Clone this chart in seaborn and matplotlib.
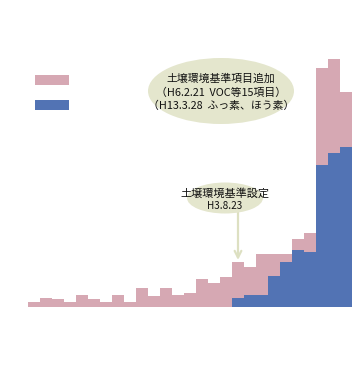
import matplotlib
matplotlib.use("Agg")
import matplotlib.pyplot as plt
from matplotlib.patches import Ellipse, Rectangle
import seaborn as sns
import pandas as pd

# ---- data ----
years = [str(y) for y in range(1974, 2001)]
total = [5, 9, 8, 5, 12, 8, 5, 12, 5, 19, 11, 19, 12, 14, 28, 24, 30,
         45, 40, 53, 53, 53, 68, 74, 239, 248, 215]
subset = [0, 0, 0, 0, 0, 0, 0, 0, 0, 0, 0, 0, 0, 0, 0, 0, 0,
          9, 12, 12, 31, 45, 57, 55, 142, 154, 160]
note_big = ["土壌環境基準項目追加", "（H6.2.21  VOC等15項目）", "（H13.3.28  ふっ素、ほう素）"]
note_small = ["土壌環境基準設定", "H3.8.23"]
note_index = 17

PINK = "#d6a8b3"
BLUE = "#5273b4"
BUBBLE = "#e4e6cd"
ARROW = "#dde0c2"

sns.set_theme(style="white")
plt.rcParams["font.family"] = ["Noto Sans CJK JP", "DejaVu Sans"]

W, H = 364, 376
fig = plt.figure(figsize=(W / 100, H / 100), dpi=100)
ax = fig.add_axes([28 / W, (H - 307) / H, 324 / W, 260 / H])

df = pd.DataFrame({"year": years, "total": total, "subset": subset})
sns.barplot(data=df, x="year", y="total", color=PINK, saturation=1, width=1,
            linewidth=0, ax=ax)
sns.barplot(data=df, x="year", y="subset", color=BLUE, saturation=1, width=1,
            linewidth=0, ax=ax)
ax.set_xlim(-0.5, len(years) - 0.5)
ax.set_ylim(0, 260)
ax.set_axis_off()

# legend swatches
fig.patches.append(Rectangle((35 / W, 1 - 85 / H), 34 / W, 10 / H, transform=fig.transFigure,
                             facecolor=PINK, edgecolor="none"))
fig.patches.append(Rectangle((35 / W, 1 - 110 / H), 34 / W, 10 / H, transform=fig.transFigure,
                             facecolor=BLUE, edgecolor="none"))

# big bubble
fig.patches.append(Ellipse((221 / W, 1 - 91 / H), 146 / W, 66 / H, transform=fig.transFigure,
                           facecolor=BUBBLE, edgecolor="none"))
for txt, yy in zip(note_big, [79, 93, 106]):
    fig.text(221 / W, 1 - yy / H, txt, ha="center", va="center", fontsize=7.8, color="#111111")

# small bubble with arrow
ax.annotate("", xy=(note_index, total[note_index] + 2), xycoords="data",
            xytext=(238 / W, 1 - 212 / H), textcoords="figure fraction",
            arrowprops=dict(arrowstyle="->", color=ARROW, lw=1.6, shrinkA=0, shrinkB=0))
fig.patches.append(Ellipse((225 / W, 1 - 198 / H), 76 / W, 31 / H, transform=fig.transFigure,
                           facecolor=BUBBLE, edgecolor="none"))
fig.text(225 / W, 1 - 193 / H, note_small[0], ha="center", va="center", fontsize=8, color="#111111")
fig.text(225 / W, 1 - 206 / H, note_small[1], ha="center", va="center", fontsize=7.2, color="#111111")

fig.savefig("out.png", dpi=100)
